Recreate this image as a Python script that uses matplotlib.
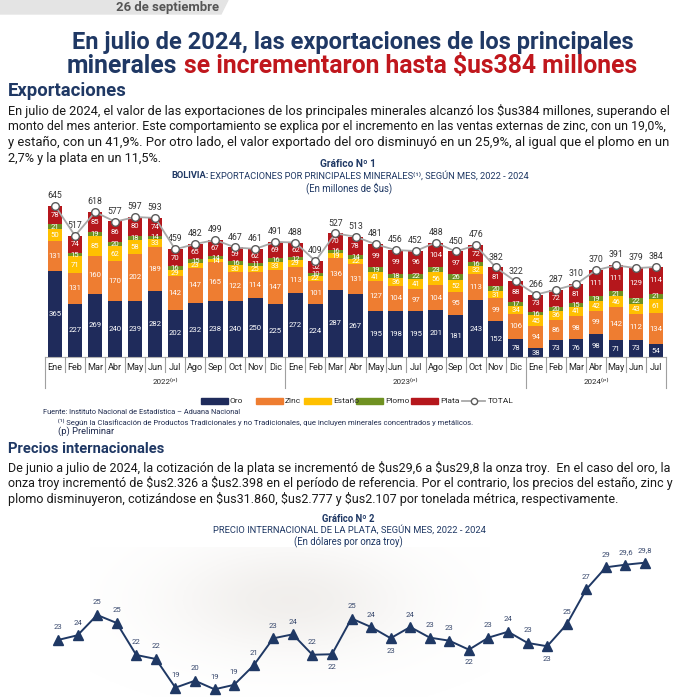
import matplotlib.pyplot as plt
from matplotlib.patches import Rectangle, Polygon
from matplotlib.lines import Line2D
import numpy as np

plt.rcParams['font.family'] = ['Roboto', 'DejaVu Sans']
plt.rcParams['text.parse_math'] = False

W = H = 697

# datos grafico 1 (millones de $us)
meses = ["Ene", "Feb", "Mar", "Abr", "May", "Jun", "Jul", "Ago", "Sep", "Oct", "Nov", "Dic"] * 2 + \
        ["Ene", "Feb", "Mar", "Abr", "May", "Jun", "Jul"]
anios = ["2022⁽ᵖ⁾", "2023⁽ᵖ⁾", "2024⁽ᵖ⁾"]
oro = [365, 227, 269, 240, 239, 282, 202, 232, 238, 240, 250, 225,
       272, 224, 287, 267, 195, 198, 195, 201, 181, 243, 152, 78,
       38, 73, 76, 98, 71, 73, 54]
zinc = [131, 131, 160, 170, 202, 189, 142, 147, 165, 122, 114, 147,
        113, 101, 136, 131, 127, 104, 97, 104, 95, 113, 99, 106,
        94, 86, 98, 99, 142, 112, 134]
estano = [50, 71, 85, 62, 58, 33, 29, 23, 14, 30, 25, 33,
          29, 22, 19, 22, 41, 36, 41, 56, 52, 32, 31, 34,
          45, 36, 41, 42, 46, 43, 61]
plomo = [21, 15, 19, 20, 18, 14, 16, 15, 14, 16, 11, 16,
         12, 10, 16, 14, 19, 18, 22, 23, 26, 16, 20, 17,
         16, 20, 15, 19, 21, 22, 21]
plata = [78, 74, 85, 86, 80, 74, 70, 65, 67, 59, 62, 69,
         62, 52, 70, 78, 99, 99, 96, 104, 97, 72, 81, 88,
         73, 72, 81, 111, 111, 129, 114]
total = [645, 517, 618, 577, 597, 593, 459, 482, 499, 467, 461, 491,
         488, 409, 527, 513, 481, 456, 452, 488, 450, 476, 382, 322,
         266, 287, 310, 370, 391, 379, 384]

# datos grafico 2 ($us por onza troy)
precio_plata = [23.25, 23.65, 25.37, 24.69, 21.98, 21.64, 19.21, 19.8, 19.07, 19.45, 21.1, 23.39,
                23.73, 22.0, 22.04, 25.07, 24.35, 23.4, 24.35, 23.45, 23.19, 22.43, 23.45, 23.95,
                23.0, 22.72, 24.58, 27.55, 29.41, 29.63, 29.8]
etiq_plata = ["23", "24", "25", "25", "22", "22", "19", "20", "19", "19", "21", "23",
              "24", "22", "22", "25", "24", "23", "24", "23", "23", "22", "23", "24",
              "23", "23", "25", "27", "29", "29,6", "29,8"]
etiq_abajo = [14, 17, 21, 25]

NAVY = '#1f3864'
ROJO = '#c0171d'
TXT = '#1a1a1a'
colores = {'Oro': '#1f2b5b', 'Zinc': '#ee7d31', 'Estaño': '#ffc000',
           'Plomo': '#6f9121', 'Plata': '#b5171c'}

fig = plt.figure(figsize=(W / 100, H / 100), dpi=100)
rend = fig.canvas.get_renderer()


def fy(y):
    return 1 - y / H


def ancho(t):
    return t.get_window_extent(rend).width


def linea(partes, x0, y, size, width=None, gap=0.27, ha='left'):
    # partes: lista de (texto, kwargs); escala para ocupar width px
    objs = [fig.text(0, fy(y), s, fontsize=size, va='center', **kw) for s, kw in partes]
    if width:
        tot = sum(ancho(o) for o in objs) + gap * size * 1.39 * (len(objs) - 1)
        size = size * width / tot
        for o in objs:
            o.set_fontsize(size)
    anchos = [ancho(o) for o in objs]
    g = gap * size * 1.39
    tot = sum(anchos) + g * (len(objs) - 1)
    x = x0 - tot / 2 if ha == 'center' else x0
    for o, a in zip(objs, anchos):
        o.set_position((x / W, fy(y)))
        x += a + g
    return size


def parrafo(lineas, x0, x1, y0, dy, size0, **kw):
    # cada linea se ajusta al ancho de la columna, la ultima queda libre
    size = None
    for k, ln in enumerate(lineas):
        t = fig.text(x0 / W, fy(y0 + k * dy), ln, fontsize=size0, va='center', **kw)
        if k < len(lineas) - 1:
            t.set_fontsize(size0 * (x1 - x0) / ancho(t))
            if size is None:
                size = t.get_fontsize()
        else:
            t.set_fontsize(size)


# fondo difuso detras del grafico 2
axf = fig.add_axes([90 / W, 0, 400 / W, 150 / H], zorder=0)
gx, gy = np.meshgrid(np.linspace(-1, 1, 200), np.linspace(-1, 1, 80))
img = np.ones((80, 200, 4))
img[..., :3] = [0.88, 0.86, 0.84]
img[..., 3] = 0.45 * np.exp(-(gx ** 2 / 0.35 + (gy + 0.3) ** 2 / 0.5))
axf.imshow(img, aspect='auto', extent=(0, 1, 0, 1))
axf.axis('off')

# encabezado
fig.patches.append(Polygon([(0, 1), (228 / W, 1), (221 / W, fy(14)), (0, fy(14))],
                           closed=True, transform=fig.transFigure, color='#e4e4e4', zorder=0))
linea([("26 de septiembre", dict(color='#555555', fontweight='bold'))], 116, 7, 7.5, width=102)

s = linea([("En julio de 2024, las exportaciones de los principales", dict(color=NAVY, fontweight='bold'))],
          72, 42, 15, width=566)
linea([("minerales", dict(color=NAVY, fontweight='bold')),
       ("se incrementaron hasta $us384 millones", dict(color=ROJO, fontweight='bold'))],
      67, 66, s, width=570)

linea([("Exportaciones", dict(color=NAVY, fontweight='bold'))], 8, 91, 10, width=119)
parrafo(["En julio de 2024, el valor de las exportaciones de los principales minerales alcanzó los $us384 millones, superando el",
         "monto del mes anterior. Este comportamiento se explica por el incremento en las ventas externas de zinc, con un 19,0%,",
         "y estaño, con un 41,9%. Por otro lado, el valor exportado del oro disminuyó en un 25,9%, al igual que el plomo en un",
         "2,7% y la plata en un 11,5%."], 8, 661, 111, 15.7, 8.5, color=TXT)

linea([("Gráfico Nº 1", dict(color=NAVY, fontweight='bold'))], 348, 164, 7, width=56, ha='center')
linea([("BOLIVIA:", dict(color=NAVY, fontweight='bold')),
       ("EXPORTACIONES POR PRINCIPALES MINERALES⁽¹⁾, SEGÚN MES, 2022 - 2024", dict(color=NAVY))],
      350, 176, 6.5, width=360, gap=0.12, ha='center')
linea([("(En millones de $us)", dict(color=NAVY))], 349, 188, 6.5, width=86, ha='center')

# grafico 1: barras apiladas
esc = 0.2345  # px por millon
ymax = 700
ah = ymax * esc
ax = fig.add_axes([45 / W, fy(357), 621 / W, ah / H])
x = np.arange(len(meses))
base = np.zeros(len(meses))
for nombre, vals in [('Oro', oro), ('Zinc', zinc), ('Estaño', estano), ('Plomo', plomo), ('Plata', plata)]:
    vals = np.array(vals)
    ax.bar(x, vals, 0.73, bottom=base, color=colores[nombre], zorder=2)
    for xi, b, v in zip(x, base, vals):
        ax.text(xi, b + v / 2, str(v), ha='center', va='center', color='white', fontsize=5.6, zorder=3)
    base = base + vals
ax.plot(x, total, color='#a8a8a8', lw=1.3, marker='o', ms=5.5, mfc='white', mec='#5a5a5a', mew=1, zorder=5)
for xi, t in zip(x, total):
    ax.annotate(str(t), (xi, t), xytext=(0, 7.5), textcoords='offset points', ha='center', va='center',
                fontsize=6.3, color='#333333')
ax.set_xlim(-0.5, len(meses) - 0.5)
ax.set_ylim(0, ymax)
ax.axis('off')

tr = ax.get_xaxis_transform()
ax.plot([-0.5, len(meses) - 0.5], [0, 0], color='#b0b0b0', lw=0.8, transform=tr, clip_on=False)
for i, m in enumerate(meses):
    ax.text(i, -10 / ah, m, ha='center', va='center', fontsize=6.6, color='#262626', transform=tr)
for b in np.arange(len(meses) + 1) - 0.5:
    largo = 31 if b in (-0.5, 11.5, 23.5, len(meses) - 0.5) else 15
    ax.plot([b, b], [0, -largo / ah], color='#a0a0a0', lw=0.8, transform=tr, clip_on=False)
for xc, a in zip([5.5, 17.5, 27], anios):
    ax.text(xc, -25 / ah, a, ha='center', va='center', fontsize=5.8, color='#262626', transform=tr)

# leyenda
for x0, nombre in [(201, 'Oro'), (256, 'Zinc'), (304, 'Estaño'), (356, 'Plomo'), (411, 'Plata')]:
    fig.patches.append(Rectangle((x0 / W, fy(404)), 27 / W, 6 / H, transform=fig.transFigure,
                                 color=colores[nombre]))
    fig.text((x0 + 29) / W, fy(401), nombre, fontsize=6, va='center', color='#262626')
fig.lines.append(Line2D([462 / W, 485 / W], [fy(401)] * 2, transform=fig.transFigure, color='#a8a8a8', lw=1.3))
fig.lines.append(Line2D([473.5 / W], [fy(401)], transform=fig.transFigure, marker='o', ms=4.5,
                        mfc='white', mec='#5a5a5a', mew=1))
fig.text(488 / W, fy(401), "TOTAL", fontsize=6, va='center', color='#262626')

linea([("Fuente: Instituto Nacional de Estadística – Aduana Nacional", dict(color='#1f2b4f'))], 43, 413, 5.5, width=197)
linea([("⁽¹⁾ Según la Clasificación de Productos Tradicionales y no Tradicionales, que incluyen minerales concentrados y metálicos.",
        dict(color='#1f2b4f'))], 58, 422, 5.5, width=412)
linea([("(p) Preliminar", dict(color='#1f2b4f'))], 58, 431, 5.5, width=57)

linea([("Precios internacionales", dict(color=NAVY, fontweight='bold'))], 8, 449, 10, width=157)
parrafo(["De junio a julio de 2024, la cotización de la plata se incrementó de $us29,6 a $us29,8 la onza troy.  En el caso del oro, la",
         "onza troy incrementó de $us2.326 a $us2.398 en el período de referencia. Por el contrario, los precios del estaño, zinc y",
         "plomo disminuyeron, cotizándose en $us31.860, $us2.777 y $us2.107 por tonelada métrica, respectivamente."],
        8, 661, 468, 15.5, 8.5, color=TXT)

linea([("Gráfico Nº 2", dict(color=NAVY, fontweight='bold'))], 348, 519, 7, width=53, ha='center')
linea([("PRECIO INTERNACIONAL DE LA PLATA, SEGÚN MES, 2022 - 2024", dict(color=NAVY))], 349, 530, 6.5,
      width=272, ha='center')
linea([("(En dólares por onza troy)", dict(color=NAVY))], 348, 542, 6.5, width=109, ha='center')

# grafico 2: precio de la plata
paso = 19.57
esc2 = 11.8
top_px = 545
ax2 = fig.add_axes([45 / W, 0, 621 / W, (H - top_px) / H], zorder=2)
ax2.patch.set_alpha(0)
xp = np.arange(len(precio_plata))
ax2.plot(xp, precio_plata, color=NAVY, lw=1.4, marker='^', ms=7, clip_on=False)
for i, (v, e) in enumerate(zip(precio_plata, etiq_plata)):
    dy = -9 if i in etiq_abajo else 9
    ax2.annotate(e, (i, v), xytext=(0, dy), textcoords='offset points', ha='center', va='center',
                 fontsize=5.6, color='#3a4a6e')
ax2.set_xlim(-13 / paso, 30 + 21 / paso)
ax2.set_ylim(29.8 - (H - 562.7) / esc2, 29.8 + (562.7 - top_px) / esc2)
ax2.axis('off')

fig.savefig("out.png", dpi=100)
